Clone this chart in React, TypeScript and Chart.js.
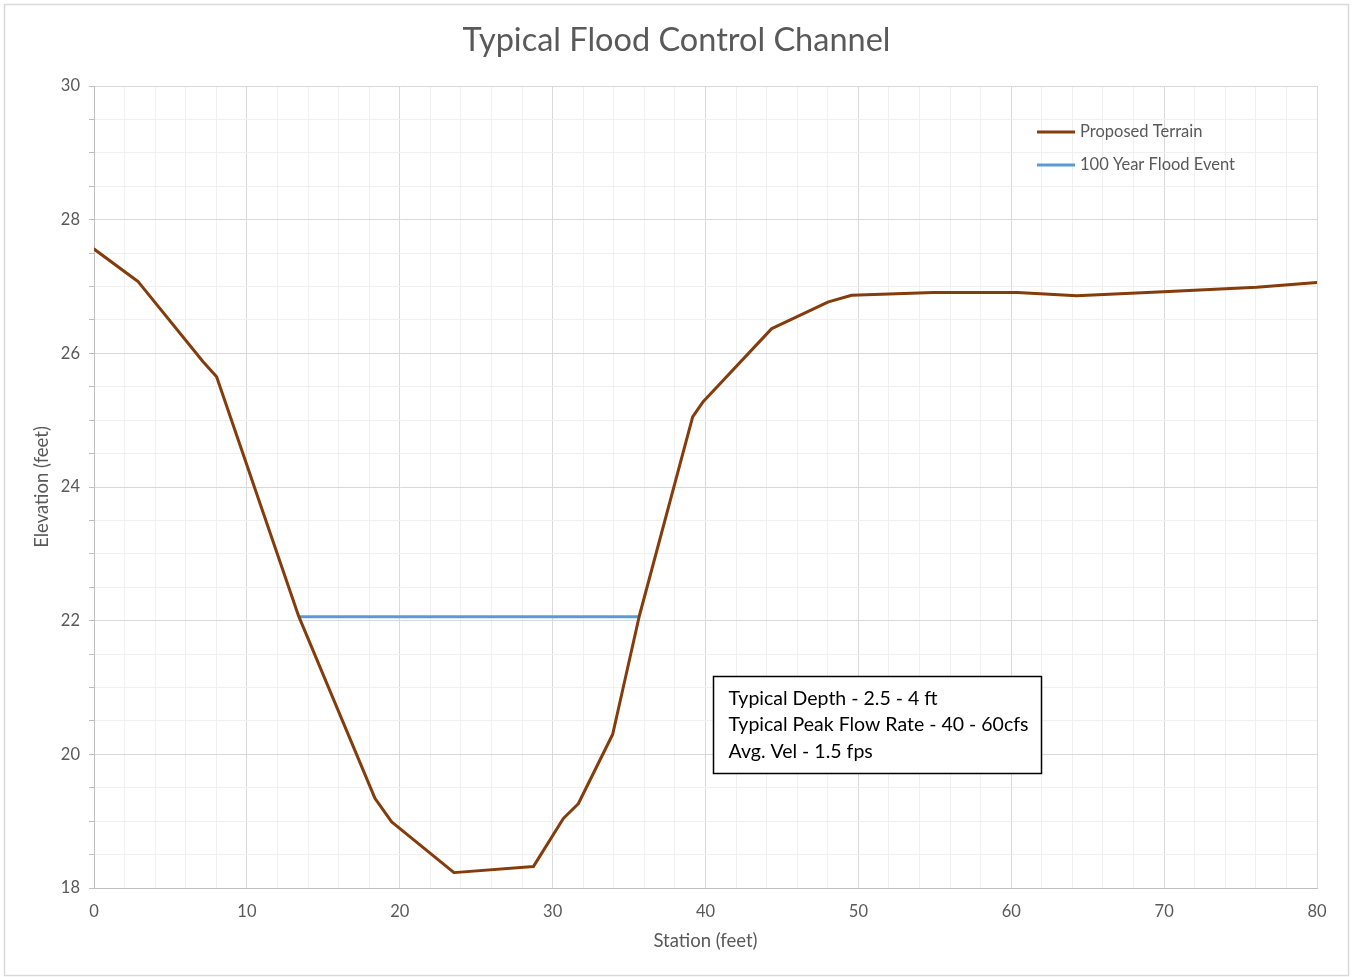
import React, { useEffect, useRef } from 'react';
import { Chart, registerables } from 'chart.js';

Chart.register(...registerables);

// ---- data ----
const chartTitle = 'Typical Flood Control Channel';
const xAxisTitle = 'Station (feet)';
const yAxisTitle = 'Elevation (feet)';

const terrainLabel = 'Proposed Terrain';
const terrainStation = [0, 2.9, 7.15, 8.02, 13.4, 18.38, 19.47, 23.55, 28.74, 30.7, 31.68, 33.93, 35.67, 39.16, 39.86, 44.33, 48.04, 49.56, 54.9, 60.4, 64.28, 69.95, 76.05, 80];
const terrainElevation = [27.56, 27.07, 25.87, 25.65, 22.06, 19.34, 18.99, 18.23, 18.32, 19.04, 19.26, 20.3, 22.07, 25.05, 25.28, 26.37, 26.77, 26.87, 26.91, 26.91, 26.86, 26.92, 26.99, 27.06];

const floodLabel = '100 Year Flood Event';
const floodStation = [13.4, 35.67];
const floodElevation = [22.06, 22.06];

const xMin = 0, xMax = 80, xMajor = 10, xMinor = 2;
const yMin = 18, yMax = 30, yMajor = 2, yMinor = 0.5;

const noteLines = ['Typical Depth - 2.5 - 4 ft', 'Typical Peak Flow Rate - 40 - 60cfs', 'Avg. Vel - 1.5 fps'];

// ---- styles ----
const FONT = 'Lato, "Open Sans", "DejaVu Sans", sans-serif';
const TEXT_GRAY = '#595959';
const TERRAIN_COLOR = '#843C0C';
const FLOOD_COLOR = '#5B9BD5';
const MAJOR_GRID = '#d9d9d9';
const MINOR_GRID = '#f0f0f0';
const AXIS_COLOR = '#bfbfbf';

const isMultiple = (v: number, step: number) => Math.abs(v / step - Math.round(v / step)) < 1e-6;

const decorPlugin = {
  id: 'decor',
  beforeDraw(chart: any) {
    const ctx = chart.ctx;
    ctx.save();
    ctx.fillStyle = '#ffffff';
    ctx.fillRect(0, 0, chart.width, chart.height);
    ctx.strokeStyle = '#d9d9d9';
    ctx.lineWidth = 1.5;
    ctx.strokeRect(4.5, 4.5, chart.width - 9, chart.height - 6);
    // chart title, centred over the whole canvas
    ctx.font = `32.5px ${FONT}`;
    ctx.fillStyle = TEXT_GRAY;
    ctx.textAlign = 'center';
    ctx.textBaseline = 'middle';
    ctx.fillText(chartTitle, chart.width / 2, 41);
    ctx.restore();
  },
  afterDraw(chart: any) {
    const ctx = chart.ctx;
    const area = chart.chartArea;
    ctx.save();
    // legend
    const lx = area.right - 280;
    let ly = area.top + 46;
    ctx.font = `16.5px ${FONT}`;
    ctx.textBaseline = 'middle';
    ctx.textAlign = 'left';
    chart.data.datasets.forEach((ds: any) => {
      ctx.strokeStyle = ds.borderColor;
      ctx.lineWidth = 3;
      ctx.beginPath();
      ctx.moveTo(lx, ly);
      ctx.lineTo(lx + 38, ly);
      ctx.stroke();
      ctx.fillStyle = TEXT_GRAY;
      ctx.fillText(ds.label, lx + 43, ly);
      ly += 33;
    });
    // note box
    const bx = area.left + 619.5;
    const by = area.top + 590.5;
    ctx.font = `19.5px ${FONT}`;
    const tw = Math.max(...noteLines.map((t) => ctx.measureText(t).width));
    const bw = Math.round(tw + 28);
    const bh = 97;
    ctx.fillStyle = '#ffffff';
    ctx.fillRect(bx, by, bw, bh);
    ctx.strokeStyle = '#000000';
    ctx.lineWidth = 1.5;
    ctx.strokeRect(bx, by, bw, bh);
    ctx.fillStyle = '#000000';
    noteLines.forEach((t, i) => {
      ctx.fillText(t, bx + 15, by + 22 + i * 26.5);
    });
    ctx.restore();
  },
};

export default function App() {
  const canvasRef = useRef<HTMLCanvasElement | null>(null);

  useEffect(() => {
    const canvas = canvasRef.current;
    if (!canvas) return;
    const chart = new Chart(canvas, {
      type: 'line',
      data: {
        datasets: [
          {
            label: terrainLabel,
            data: terrainStation.map((x, i) => ({ x, y: terrainElevation[i] })),
            borderColor: TERRAIN_COLOR,
            backgroundColor: TERRAIN_COLOR,
            borderWidth: 3,
            pointRadius: 0,
            tension: 0,
            borderJoinStyle: 'round',
            borderCapStyle: 'round',
          },
          {
            label: floodLabel,
            data: floodStation.map((x, i) => ({ x, y: floodElevation[i] })),
            borderColor: FLOOD_COLOR,
            backgroundColor: FLOOD_COLOR,
            borderWidth: 3,
            pointRadius: 0,
            tension: 0,
          },
        ],
      },
      options: {
        animation: false,
        responsive: false,
        maintainAspectRatio: false,
        layout: { padding: { left: 20, right: 36, top: 86, bottom: 20 } },
        plugins: {
          legend: { display: false },
          tooltip: { enabled: false },
          title: { display: false },
        },
        scales: {
          x: {
            type: 'linear',
            min: xMin,
            max: xMax,
            afterFit(scale: any) {
              scale.height = 69;
            },
            ticks: {
              stepSize: xMinor,
              autoSkip: false,
              maxRotation: 0,
              padding: 14,
              color: TEXT_GRAY,
              font: { family: FONT, size: 16.5 },
              callback: (v: any) => (isMultiple(Number(v), xMajor) ? String(v) : ''),
            },
            grid: {
              drawTicks: false,
              color: (c: any) => (isMultiple(c.tick.value, xMajor) ? MAJOR_GRID : MINOR_GRID),
            },
            border: { color: AXIS_COLOR, width: 1 },
            title: {
              display: true,
              text: xAxisTitle,
              color: TEXT_GRAY,
              font: { family: FONT, size: 18.5 },
              padding: { top: 0, bottom: 4.9 },
            },
          },
          y: {
            type: 'linear',
            min: yMin,
            max: yMax,
            afterFit(scale: any) {
              scale.width = 74;
            },
            ticks: {
              stepSize: yMinor,
              autoSkip: false,
              padding: 9,
              color: TEXT_GRAY,
              font: { family: FONT, size: 16.5 },
              callback: (v: any) => (isMultiple(Number(v), yMajor) ? String(v) : ''),
            },
            grid: {
              tickLength: 5,
              tickColor: AXIS_COLOR,
              color: (c: any) => (isMultiple(c.tick.value, yMajor) ? MAJOR_GRID : MINOR_GRID),
            },
            border: { color: AXIS_COLOR, width: 1 },
            title: {
              display: true,
              text: yAxisTitle,
              color: TEXT_GRAY,
              font: { family: FONT, size: 18.5 },
              padding: { top: 10.9, bottom: 0 },
            },
          },
        },
      },
      plugins: [decorPlugin],
    } as any);
    return () => chart.destroy();
  }, []);

  return (
    <div style={{ position: 'fixed', left: 0, top: 0, width: 1353, height: 977, background: '#fff' }}>
      <canvas ref={canvasRef} width={1353} height={977} style={{ width: 1353, height: 977, display: 'block' }} />
    </div>
  );
}
